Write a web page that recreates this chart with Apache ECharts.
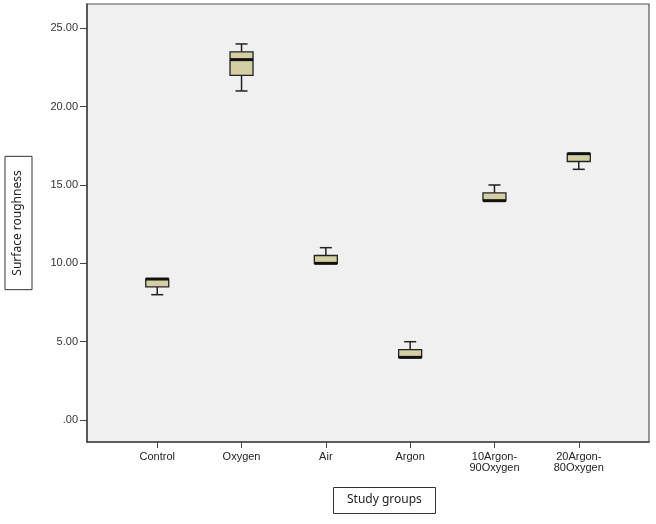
<!DOCTYPE html>
<html>
<head>
<meta charset="utf-8">
<script src="https://cdn.jsdelivr.net/npm/echarts@6/dist/echarts.min.js"></script>
<style>html,body{margin:0;padding:0;background:#fff}#c{width:656px;height:524px}</style>
</head>
<body>
<div id="c"></div>
<script>
const categories = ['Control', 'Oxygen', 'Air', 'Argon', '10Argon-\n90Oxygen', '20Argon-\n80Oxygen'];
const mins    = [8,   21,   10,   4,   14,   16];
const q1s     = [8.5, 22,   10,   4,   14,   16.5];
const medians = [9,   23,   10,   4,   14,   17];
const q3s     = [9,   23.5, 10.5, 4.5, 14.5, 17];
const maxs    = [9,   24,   11,   5,   15,   17];
const yTickValues = [0, 5, 10, 15, 20, 25];
const yTickLabels = ['.00', '5.00', '10.00', '15.00', '20.00', '25.00'];

const boxData = categories.map((c, i) => [i, mins[i], q1s[i], medians[i], q3s[i], maxs[i]]);

const BOX_W = 23, CAP_W = 12;
function renderBox(params, api) {
  const x = api.value(0);
  const pMin = api.coord([x, api.value(1)]);
  const pQ1 = api.coord([x, api.value(2)]);
  const pMed = api.coord([x, api.value(3)]);
  const pQ3 = api.coord([x, api.value(4)]);
  const pMax = api.coord([x, api.value(5)]);
  const cx = pMed[0];
  const lineStyle = { stroke: '#222', lineWidth: 1.5 };
  const children = [];
  if (pMin[1] - pQ1[1] > 0.5) {
    children.push({ type: 'line', shape: { x1: cx, y1: pQ1[1], x2: cx, y2: pMin[1] }, style: lineStyle });
  }
  children.push({ type: 'line', shape: { x1: cx - CAP_W / 2, y1: pMin[1], x2: cx + CAP_W / 2, y2: pMin[1] }, style: lineStyle });
  if (pQ3[1] - pMax[1] > 0.5) {
    children.push({ type: 'line', shape: { x1: cx, y1: pQ3[1], x2: cx, y2: pMax[1] }, style: lineStyle });
  }
  children.push({ type: 'line', shape: { x1: cx - CAP_W / 2, y1: pMax[1], x2: cx + CAP_W / 2, y2: pMax[1] }, style: lineStyle });
  children.push({ type: 'rect', shape: { x: cx - BOX_W / 2, y: pQ3[1], width: BOX_W, height: pQ1[1] - pQ3[1] },
    style: { fill: '#d4cea3', stroke: '#222', lineWidth: 1.3 } });
  children.push({ type: 'line', shape: { x1: cx - BOX_W / 2, y1: pMed[1], x2: cx + BOX_W / 2, y2: pMed[1] },
    style: { stroke: '#111', lineWidth: 3 } });
  return { type: 'group', children };
}

const chart = echarts.init(document.getElementById('c'), null, { renderer: 'canvas' });
chart.setOption({
  animation: false,
  backgroundColor: '#ffffff',
  title: {
    text: 'Study groups',
    left: 333, top: 487,
    padding: [7, 14, 8, 14],
    borderColor: '#333', borderWidth: 1,
    textStyle: { fontFamily: 'Noto Sans', fontSize: 12, fontWeight: 'normal', color: '#222' }
  },
  grid: {
    left: 87, right: 7, top: 4, bottom: 82,
    containLabel: false, outerBoundsMode: 'none',
    show: true, backgroundColor: '#f0f0f0', borderColor: '#555', borderWidth: 1.2
  },
  xAxis: {
    type: 'value', min: -0.833, max: 5.833,
    splitLine: { show: false },
    axisLine: { onZero: false, lineStyle: { color: '#444', width: 1.5 } },
    axisTick: { show: true, customValues: [0, 1, 2, 3, 4, 5], length: 6, lineStyle: { color: '#444' } },
    axisLabel: {
      customValues: [0, 1, 2, 3, 4, 5],
      formatter: v => categories[Math.round(v)],
      margin: 9, fontFamily: 'Liberation Sans', fontSize: 11, color: '#222', lineHeight: 11
    }
  },
  yAxis: {
    type: 'value', min: -1.4, max: 26.55,
    splitLine: { show: false },
    axisLine: { show: true, onZero: false, lineStyle: { color: '#444', width: 1.5 } },
    axisTick: { show: true, customValues: yTickValues, length: 7, lineStyle: { color: '#444' } },
    axisLabel: {
      customValues: yTickValues,
      formatter: v => yTickLabels[yTickValues.indexOf(v)],
      margin: 9, fontFamily: 'Liberation Sans', fontSize: 11, color: '#333'
    },
    name: 'Surface roughness',
    nameLocation: 'middle',
    nameGap: 55,
    nameTextStyle: {
      fontFamily: 'Noto Sans', fontSize: 12, color: '#222',
      borderColor: '#333', borderWidth: 1, padding: [7, 14, 8, 14]
    }
  },
  series: [{
    type: 'custom',
    renderItem: renderBox,
    encode: { x: 0, y: [1, 2, 3, 4, 5] },
    data: boxData
  }]
});
</script>
</body>
</html>
